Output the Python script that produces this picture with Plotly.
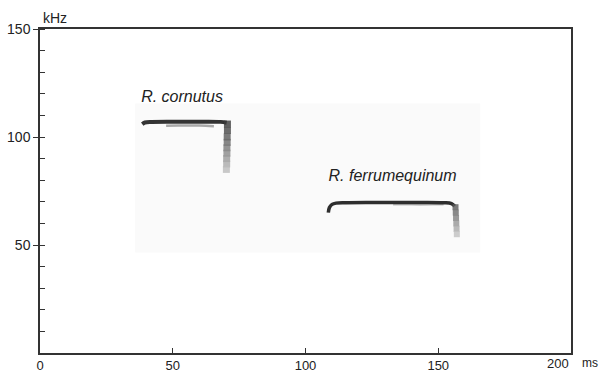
import plotly.graph_objects as go

# --- data ---
x_ticks = [0, 50, 100, 150, 200]
x_tick_labels = ["0", "50", "100", "150", ""]
x_last_label = "200"
y_ticks = [50, 100, 150]

# R. cornutus call (CF part + FM drop)
cornutus_ms = [38.5, 39.5, 42, 50, 60, 68, 70.3]
cornutus_khz = [106.0, 106.7, 107.0, 107.1, 107.1, 107.0, 106.6]
cornutus_harm_ms = [47.5, 52, 60, 65.5]
cornutus_harm_khz = [105.2, 105.3, 105.3, 105.0]
cornutus_drop_ms = [70.6, 70.6, 70.5, 70.5, 70.4, 70.4, 70.3, 70.3, 70.2]
cornutus_drop_khz = [106.0, 103.0, 100.0, 97.5, 95.0, 92.5, 90.0, 87.5, 85.0]

# R. ferrumequinum call
ferrum_ms = [108.6, 109.0, 110.0, 111.5, 115, 125, 140, 152, 155.0, 156.2]
ferrum_khz = [65.0, 67.3, 68.8, 69.4, 69.6, 69.7, 69.7, 69.6, 69.2, 68.0]
ferrum_harm_ms = [133, 140, 148, 152]
ferrum_harm_khz = [68.7, 68.7, 68.7, 68.8]
ferrum_drop_ms = [156.5, 156.6, 156.7, 156.8, 156.9, 157.0]
ferrum_drop_khz = [67.5, 65.0, 62.5, 60.0, 57.5, 55.0]

labels = ["<i>R. cornutus</i>", "<i>R. ferrumequinum</i>"]
label_ms = [53.5, 132.8]
label_khz = [118.0, 81.5]

drop_grays_c = ["#3a3a3a", "#484848", "#5a5a5a", "#6a6a6a", "#7a7a7a", "#8a8a8a", "#9a9a9a", "#aaaaaa", "#bcbcbc"]
drop_grays_f = ["#5a5a5a", "#6e6e6e", "#828282", "#969696", "#aaaaaa", "#c0c0c0"]

fig = go.Figure()

# faint spectrogram background
fig.add_shape(type="rect", x0=35.8, x1=165.8, y0=46.5, y1=115.5,
              fillcolor="#fafafa", line_width=0, layer="below")

fig.add_trace(go.Scatter(x=cornutus_harm_ms, y=cornutus_harm_khz, mode="lines",
                         line=dict(color="#a8a8a8", width=2.5, shape="spline"), hoverinfo="skip"))
fig.add_trace(go.Scatter(x=cornutus_ms, y=cornutus_khz, mode="lines",
                         line=dict(color="#333333", width=4, shape="spline"), hoverinfo="skip"))
fig.add_trace(go.Scatter(x=cornutus_drop_ms, y=cornutus_drop_khz, mode="markers",
                         marker=dict(symbol="square", size=7, color=drop_grays_c, opacity=0.8,
                                     line_width=0), hoverinfo="skip"))

fig.add_trace(go.Scatter(x=ferrum_harm_ms, y=ferrum_harm_khz, mode="lines",
                         line=dict(color="#bdbdbd", width=2, shape="spline"), hoverinfo="skip"))
fig.add_trace(go.Scatter(x=ferrum_ms, y=ferrum_khz, mode="lines",
                         line=dict(color="#2e2e2e", width=3.5, shape="spline"), hoverinfo="skip"))
fig.add_trace(go.Scatter(x=ferrum_drop_ms, y=ferrum_drop_khz, mode="markers",
                         marker=dict(symbol="square", size=6, color=drop_grays_f, opacity=0.8,
                                     line_width=0), hoverinfo="skip"))

fig.add_trace(go.Scatter(x=label_ms, y=label_khz, mode="text", text=labels,
                         textfont=dict(family="Liberation Sans, Arial", size=16, color="#222222"),
                         hoverinfo="skip"))

fig.update_layout(
    width=599, height=372,
    margin=dict(l=40, r=28, t=29, b=19, autoexpand=False),
    paper_bgcolor="white", plot_bgcolor="white",
    showlegend=False,
    font=dict(family="Liberation Sans, Arial", size=15, color="#222222"),
    xaxis=dict(range=[0, 200], tickvals=x_ticks, ticktext=x_tick_labels,
               ticks="inside", ticklen=5, tickcolor="#333",
               tickfont=dict(size=13), ticklabelstandoff=0,
               showline=True, linecolor="#333", linewidth=1.5, mirror=True, automargin=False,
               showgrid=False, zeroline=False, fixedrange=True),
    yaxis=dict(range=[0, 150], tickvals=y_ticks, ticks="outside", ticklen=5, tickcolor="#333",
               tickfont=dict(size=14),
               showline=True, linecolor="#333", linewidth=1.5, mirror=True, automargin=False,
               showgrid=False, zeroline=False, fixedrange=True,
               minor=dict(dtick=10, tick0=0, ticks="inside", ticklen=5, tickcolor="#333")),
    annotations=[
        dict(text="kHz", x=0, y=150, xref="x", yref="y", xanchor="left", yanchor="bottom",
             xshift=1, yshift=1, showarrow=False, font=dict(size=14)),
        dict(text=x_last_label, x=200, y=0, xref="x", yref="y", xanchor="right", yanchor="top",
             xshift=-1, yshift=-2, borderpad=0, showarrow=False, font=dict(size=13)),
        dict(text="ms", x=200, y=0, xref="x", yref="y", xanchor="left", yanchor="top",
             xshift=10, yshift=-2, borderpad=0, showarrow=False, font=dict(size=12)),
    ],
)

fig.write_html("out.html", config={"displayModeBar": False},
               post_script="document.body.style.margin='0';")
